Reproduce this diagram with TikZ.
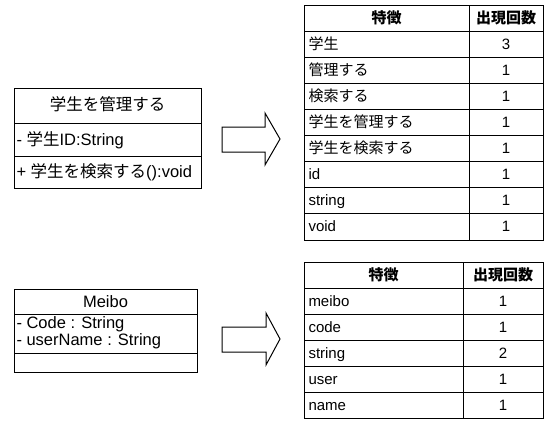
\documentclass[tikz,border=0pt]{standalone}
\usepackage{fontspec}
\setmainfont{Liberation Sans}
\newfontfamily\jp{Noto Sans CJK JP}
\tikzset{
  txt/.style={inner sep=0pt, text height=10pt, text depth=0pt, font=\fontsize{15}{15}\selectfont},
  uml/.style={inner sep=0pt, text height=11pt, text depth=0pt, font=\fontsize{16.5}{16.5}\selectfont},
  lbl/.style={txt, anchor=west},
  ctr/.style={txt},
  umlc/.style={uml},
  umll/.style={uml, anchor=west},
  hdr/.style={txt, font=\fontsize{15}{15}\selectfont\bfseries},
  blk/.style={draw=black, line width=1pt, line join=miter}
}
\begin{document}
\begin{tikzpicture}[x=1pt,y=-1pt,line width=1pt]
\useasboundingbox (0,0) rectangle (547,421);
% ---------- top UML class ----------
\draw (14,88) rectangle (201,188);
\draw (14,123) -- (201,123);
\draw (14,156) -- (201,156);
\node[umlc] (c1name) at (107.5,105) {\jp 学生を管理する};
\node[umll] (c1attr) at (16,140) {- {\jp 学生}ID:String};
\node[umll] (c1op) at (16,172) {+ {\jp 学生を検索する}():void};
% ---------- top arrow ----------
\draw[blk] (222,127) -- (265,127) -- (265,113) -- (280,139) -- (265,165) -- (265,152) -- (222,152) -- cycle;
% ---------- top table ----------
\draw (304,5) rectangle (543,240);
\draw (469,5) -- (469,240);
\foreach \i in {1,...,8} \draw (304,{5+26.11*\i}) -- (543,{5+26.11*\i});
\node[hdr] (t1h1) at (386.5,18) {\jp\bfseries 特徴};
\node[hdr] (t1h2) at (506,18) {\jp\bfseries 出現回数};
\foreach [count=\i] \t/\n in {{\jp 学生}/3, {\jp 管理する}/1, {\jp 検索する}/1, {\jp 学生を管理する}/1, {\jp 学生を検索する}/1, id/1, string/1, void/1} {
  \node[lbl] (t1a\i) at (308,{18+26.11*\i}) {\t};
  \node[ctr] (t1b\i) at (506,{18+26.11*\i}) {\n};
}
% ---------- bottom UML class ----------
\draw (14,289) rectangle (197,372);
\draw (14,314) -- (197,314);
\draw (14,353) -- (197,353);
\node[umlc] (c2name) at (105.5,302) {Meibo};
\node[umll] (c2a1) at (16,323) {- Code : String};
\node[umll] (c2a2) at (16,340) {- userName : String};
% ---------- bottom arrow ----------
\draw[blk] (222,327) -- (266,327) -- (266,313) -- (280,339) -- (266,365) -- (266,352) -- (222,352) -- cycle;
% ---------- bottom table ----------
\draw (304,262) rectangle (543,418);
\draw (463,262) -- (463,418);
\foreach \i in {1,...,5} \draw (304,{262+26*\i}) -- (543,{262+26*\i});
\node[hdr] (t2h1) at (383.5,275) {\jp\bfseries 特徴};
\node[hdr] (t2h2) at (503,275) {\jp\bfseries 出現回数};
\foreach [count=\i] \t/\n in {meibo/1, code/1, string/2, user/1, name/1} {
  \node[lbl] (t2a\i) at (308,{275+26*\i}) {\t};
  \node[ctr] (t2b\i) at (503,{275+26*\i}) {\n};
}
\end{tikzpicture}
\end{document}
